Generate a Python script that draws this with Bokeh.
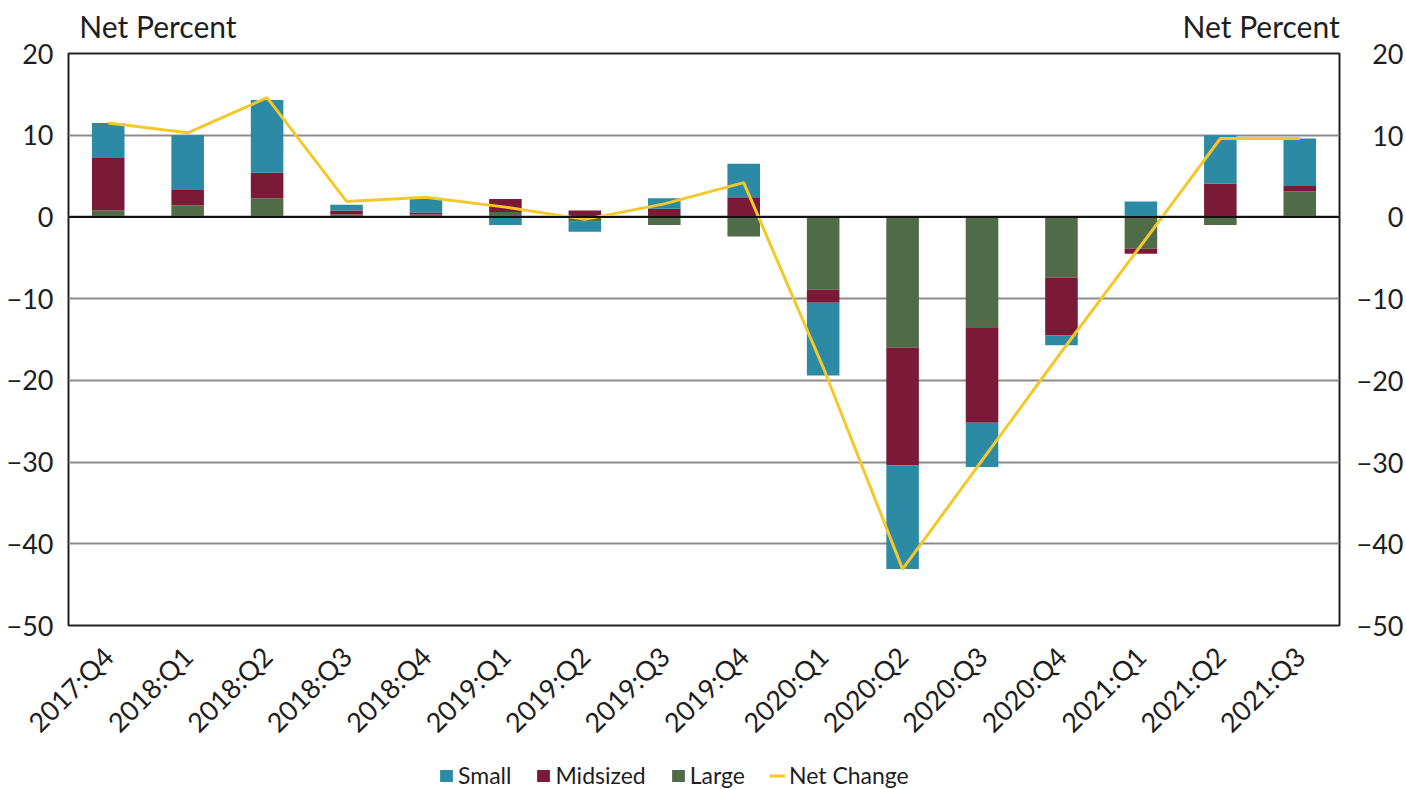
import math
from bokeh.plotting import figure
from bokeh.layouts import column
from bokeh.models import (ColumnDataSource, FactorRange, Range1d, LinearAxis, Legend,
                          LegendItem, Span, FixedTicker)
from bokeh.embed import file_html
from bokeh.resources import INLINE

quarters = ["2017:Q4", "2018:Q1", "2018:Q2", "2018:Q3", "2018:Q4", "2019:Q1", "2019:Q2",
            "2019:Q3", "2019:Q4", "2020:Q1", "2020:Q2", "2020:Q3", "2020:Q4", "2021:Q1",
            "2021:Q2", "2021:Q3"]
small = [4.3, 6.7, 8.9, 0.7, 1.8, -1.0, -1.2, 1.3, 4.1, -8.9, -12.7, -5.4, -1.2, 1.9, 5.9, 5.8]
midsized = [6.4, 1.9, 3.1, 0.5, 0.2, 1.6, 0.8, 1.0, 2.4, -1.6, -14.4, -11.7, -7.1, -0.6, 4.1, 0.7]
large = [0.8, 1.4, 2.3, 0.3, 0.3, 0.6, -0.6, -1.0, -2.4, -8.9, -16.0, -13.5, -7.4, -3.9, -1.0, 3.1]
net_change = [11.5, 10.3, 14.6, 1.9, 2.4, 1.2, -0.3, 1.6, 4.2, -18.4, -43.1, -29.8, -16.5, -3.5, 9.6, 9.6]
y_ticks = [-50, -40, -30, -20, -10, 0, 10, 20]
axis_title = "Net Percent"
series_names = ["Small", "Midsized", "Large", "Net Change"]

C_SMALL = "#2c8aa4"
C_MID = "#7b1a36"
C_LARGE = "#4f6b48"
C_NET = "#f4c82a"
TXT = "#1e1e1e"
FONT = "Lato"

W = 1406
H_MAIN = 755
H_LEG = 34

xr = FactorRange(*quarters, range_padding=0)
p = figure(x_range=xr, y_range=Range1d(-50, 20),
           width=W, height=H_MAIN, output_backend="svg", toolbar_location=None,
           min_border_left=68, min_border_right=66, min_border_top=53, min_border_bottom=130)
p.outline_line_color = "#222222"
p.outline_line_width = 2
p.background_fill_color = "white"
xa = p.xaxis[0]

# stacked bars: positive and negative parts stacked separately (order Large, Midsized, Small)
pos = [0.0] * len(quarters)
neg = [0.0] * len(quarters)
sources = {}
for name, vals, col in [("Large", large, C_LARGE), ("Midsized", midsized, C_MID), ("Small", small, C_SMALL)]:
    bottoms, tops = [], []
    for i, v in enumerate(vals):
        if v >= 0:
            bottoms.append(pos[i]); tops.append(pos[i] + v); pos[i] += v
        else:
            bottoms.append(neg[i]); tops.append(neg[i] + v); neg[i] += v
    src = ColumnDataSource(dict(x=quarters, bottom=bottoms, top=tops))
    sources[name] = (src, col)
    p.vbar(x="x", bottom="bottom", top="top", width=0.41, source=src,
           fill_color=col, line_color=None)

net_src = ColumnDataSource(dict(x=quarters, y=net_change))
p.line(x="x", y="y", source=net_src, line_color=C_NET, line_width=3)

p.add_layout(Span(location=0, dimension="width", line_color="#111111", line_width=2))

p.xgrid.grid_line_color = None
p.ygrid.ticker = FixedTicker(ticks=y_ticks)
p.ygrid.grid_line_color = "#8c8c8c"
p.ygrid.grid_line_width = 2

# left axis
p.yaxis[0].ticker = FixedTicker(ticks=y_ticks)
p.yaxis[0].major_label_standoff = 15
# right axis (labels padded with figure spaces so they line up on the right)
right = LinearAxis(ticker=FixedTicker(ticks=y_ticks),
                   major_label_overrides={20: "\u200720", 10: "\u200710", 0: "\u2007\u20070"})
right.major_label_standoff = 17
p.add_layout(right, "right")

for ax in p.yaxis:
    ax.major_tick_line_color = None
    ax.minor_tick_line_color = None
    ax.major_tick_out = 0
    ax.minor_tick_out = 0
    ax.axis_line_color = None
    ax.major_label_text_font = FONT
    ax.major_label_text_font_size = "27px"
    ax.major_label_text_color = TXT

# "Net Percent" headings above both y axes
top_ax = LinearAxis(ticker=FixedTicker(ticks=[1.126, 15.013]),
                    major_label_overrides={1.126: axis_title, 15.013: axis_title})
top_ax.axis_line_color = None
top_ax.major_tick_line_color = None
top_ax.minor_tick_line_color = None
top_ax.major_tick_out = 0
top_ax.minor_tick_out = 0
top_ax.major_label_standoff = 10
top_ax.major_label_text_font = FONT
top_ax.major_label_text_font_size = "30px"
top_ax.major_label_text_color = TXT
p.add_layout(top_ax, "above")

xa.major_label_orientation = math.pi / 4
xa.major_tick_line_color = None
xa.major_tick_out = 0
xa.axis_line_color = None
xa.major_label_text_font = FONT
xa.major_label_text_font_size = "27px"
xa.major_label_text_color = TXT
xa.major_label_standoff = 26

# legend strip below the chart (same data, drawn outside this strip's visible y range)
pl = figure(width=W, height=H_LEG, x_range=xr, y_range=Range1d(1000, 1001),
            output_backend="svg", toolbar_location=None, x_axis_location=None,
            y_axis_location=None, min_border=0)
pl.outline_line_color = None
pl.grid.grid_line_color = None
leg_r = {}
for name in ["Small", "Midsized", "Large"]:
    src, col = sources[name]
    leg_r[name] = pl.vbar(x="x", bottom="bottom", top="top", width=0.41, source=src,
                          fill_color=col, line_color=None)
leg_r["Net Change"] = pl.line(x="x", y="y", source=net_src, line_color=C_NET, line_width=3)
legend = Legend(items=[LegendItem(label=n, renderers=[leg_r[n]]) for n in series_names],
                orientation="horizontal", location=(370, 0),
                border_line_color=None, background_fill_alpha=0,
                label_text_font=FONT, label_text_font_size="23px", label_text_color=TXT,
                glyph_width=16, glyph_height=15, spacing=24, label_standoff=4, padding=2, margin=0)
pl.add_layout(legend, "center")

layout = column(p, pl, spacing=0)
open("out.html", "w").write(file_html(layout, INLINE))
